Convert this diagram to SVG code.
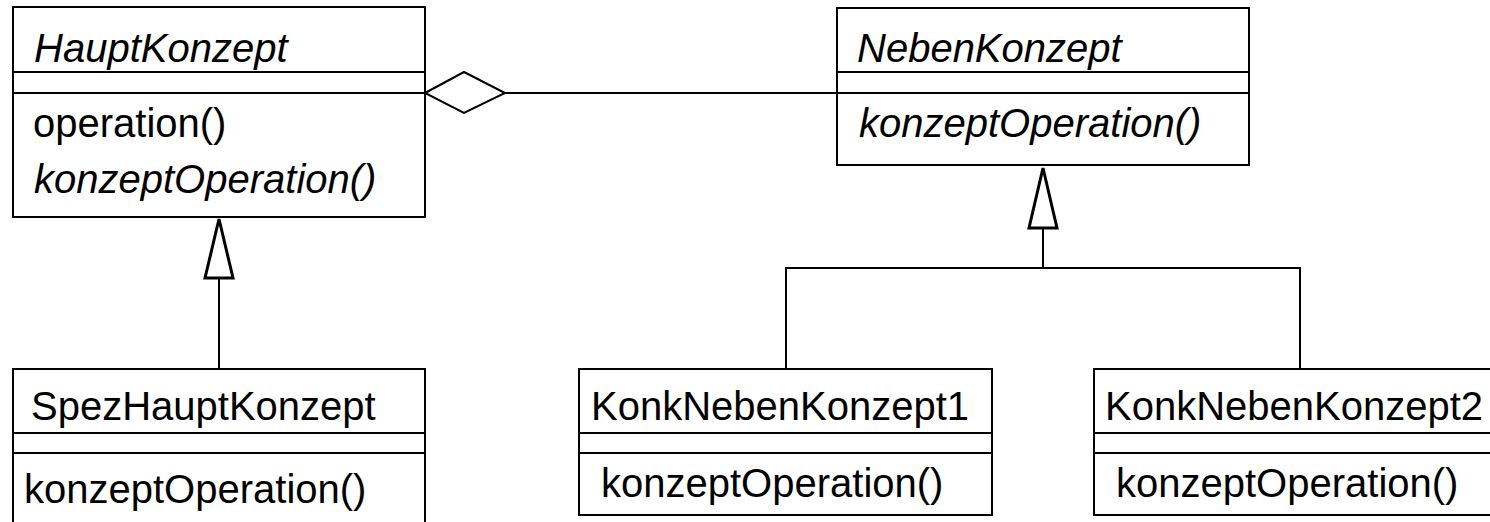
<svg xmlns="http://www.w3.org/2000/svg" width="1490" height="522" viewBox="0 0 1490 522">
<style>
.box{fill:#fff;stroke:#000;stroke-width:2}
.ln{fill:none;stroke:#000;stroke-width:2}
.tri{fill:#fff;stroke:#000;stroke-width:3}
text{font-family:"Liberation Sans",Arial,sans-serif;font-size:40px;fill:#000}
.it{font-style:italic}
</style>
<rect width="1490" height="522" fill="#fff"/>
<g id="connectors">
<polyline class="ln" points="505,93 837,93"/>
<polygon class="ln" points="425,93 464,72 505,93 464,113" />
<line class="ln" x1="219" y1="278" x2="219" y2="369"/>
<polygon class="tri" points="219,219 205,278 233,278"/>
<line class="ln" x1="1043" y1="228" x2="1043" y2="268"/>
<polyline class="ln" points="786,369 786,268 1300,268 1300,369"/>
<polygon class="tri" points="1043,168 1029,228 1057,228"/>
</g>
<g id="HauptKonzept">
<rect class="box" x="13" y="7" width="412" height="210"/>
<line class="ln" x1="13" y1="72" x2="425" y2="72"/>
<line class="ln" x1="13" y1="93" x2="425" y2="93"/>
<text class="it" x="34" y="62">HauptKonzept</text>
<text x="33" y="137">operation()</text>
<text class="it" x="34" y="193">konzeptOperation()</text>
</g>
<g id="NebenKonzept">
<rect class="box" x="837" y="8" width="412" height="157"/>
<line class="ln" x1="837" y1="72" x2="1249" y2="72"/>
<line class="ln" x1="837" y1="93" x2="1249" y2="93"/>
<text class="it" x="857" y="62">NebenKonzept</text>
<text class="it" x="859" y="137">konzeptOperation()</text>
</g>
<g id="SpezHauptKonzept">
<rect class="box" x="13" y="369" width="412" height="170"/>
<line class="ln" x1="13" y1="433" x2="425" y2="433"/>
<line class="ln" x1="13" y1="453" x2="425" y2="453"/>
<text x="31" y="420">SpezHauptKonzept</text>
<text x="24" y="503">konzeptOperation()</text>
</g>
<g id="KonkNebenKonzept1">
<rect class="box" x="579" y="369" width="413" height="146"/>
<line class="ln" x1="579" y1="433" x2="992" y2="433"/>
<line class="ln" x1="579" y1="453" x2="992" y2="453"/>
<text x="591" y="420">KonkNebenKonzept1</text>
<text x="601" y="497">konzeptOperation()</text>
</g>
<g id="KonkNebenKonzept2">
<rect class="box" x="1094" y="369" width="420" height="146"/>
<line class="ln" x1="1094" y1="433" x2="1514" y2="433"/>
<line class="ln" x1="1094" y1="453" x2="1514" y2="453"/>
<text x="1105" y="420">KonkNebenKonzept2</text>
<text x="1116" y="497">konzeptOperation()</text>
</g>
</svg>
